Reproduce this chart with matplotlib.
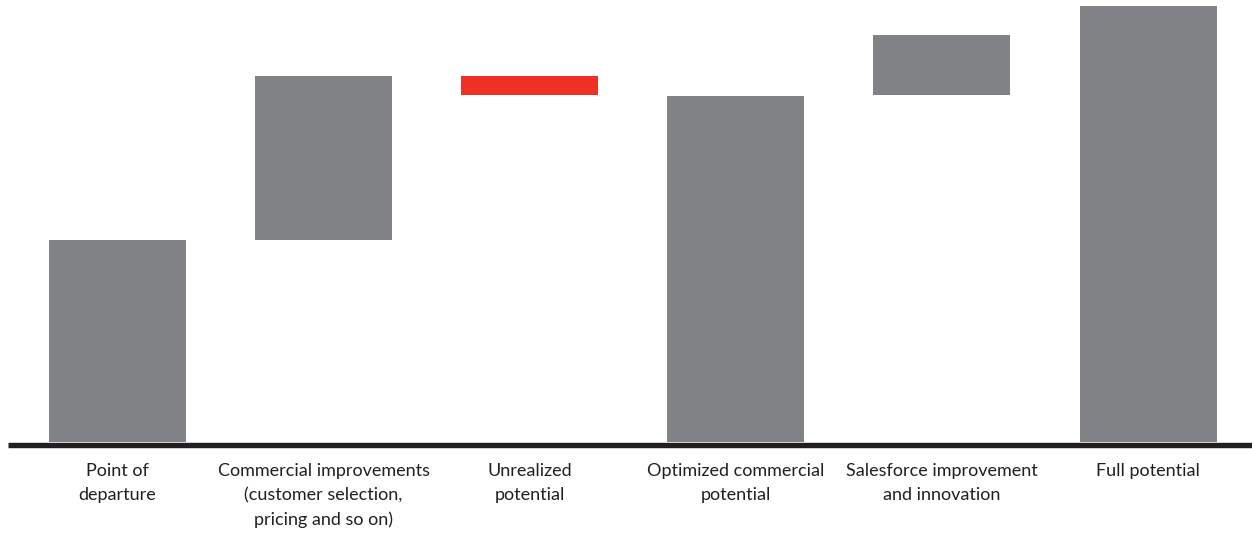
import matplotlib
matplotlib.use("Agg")
import matplotlib.pyplot as plt

categories = [
    "Point of\ndeparture",
    "Commercial improvements\n(customer selection,\npricing and so on)",
    "Unrealized\npotential",
    "Optimized commercial\npotential",
    "Salesforce improvement\nand innovation",
    "Full potential",
]
bar_bottoms = [0, 202, 347, 0, 347, 0]
bar_tops = [202, 366, 366, 346, 407, 436]
bar_kinds = ["total", "increase", "decrease", "total", "increase", "total"]

GRAY = "#808285"
RED = "#EF3125"
DARK = "#231F20"
colors = {"total": GRAY, "increase": GRAY, "decrease": RED}

W, H = 1252, 533
fig = plt.figure(figsize=(W / 100, H / 100), dpi=100)
ax = fig.add_axes([0, 0, 1, 1])
ax.axis("off")

x0_px, step_px, base_px = 117.5, 206.1, 442
ax.set_xlim((0 - x0_px) / step_px, (W - x0_px) / step_px)
ax.set_ylim(base_px - H, base_px)

xs = list(range(len(categories)))
heights = [t - b for t, b in zip(bar_tops, bar_bottoms)]
ax.bar(xs, heights, bottom=bar_bottoms, width=137 / step_px,
       color=[colors[k] for k in bar_kinds], linewidth=0, zorder=2)

ax.plot([(8 - x0_px) / step_px, (W - x0_px) / step_px], [-2.6, -2.6],
        color=DARK, lw=3.9, solid_capstyle="butt", zorder=3)

for x, lab in zip(xs, categories):
    ax.text(x, -21, lab, ha="center", va="top", fontsize=13,
            family=["Lato", "DejaVu Sans"], color=DARK, linespacing=1.6)

fig.savefig("out.png", dpi=100)
